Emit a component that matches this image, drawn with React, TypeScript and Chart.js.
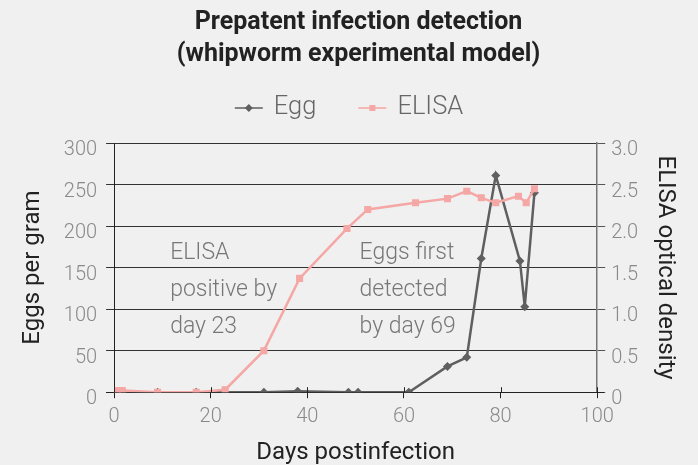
import React, { useEffect, useRef } from 'react';
import { Chart, registerables } from 'chart.js';

Chart.register(...registerables);

// ---- data ----
const eggDays = [0.5, 2, 9, 17, 23, 31, 38, 48.5, 50.5, 61, 69, 73, 76, 79, 84, 85, 87];
const eggValues = [0, 0, 0, 0, 0, 0, 1, 0, 0, 0, 31, 42, 161, 261, 158, 103, 240];
const elisaDays = [0.7, 1.7, 9, 17, 23, 31, 38.4, 48.2, 52.5, 62.4, 69, 73, 76, 79, 83.7, 85.3, 87];
const elisaValues = [0.02, 0.02, 0, 0, 0.03, 0.5, 1.37, 1.97, 2.2, 2.28, 2.33, 2.42, 2.34, 2.28, 2.36, 2.28, 2.45];

const xTicks = [0, 20, 40, 60, 80, 100];
const leftTicks = [0, 50, 100, 150, 200, 250, 300];
const rightTicks = [0, 0.5, 1.0, 1.5, 2.0, 2.5, 3.0];

const titleLines = ['Prepatent infection detection', '(whipworm experimental model)'];
const seriesNames = ['Egg', 'ELISA'];
const note1 = ['ELISA', 'positive by', 'day 23'];
const note2 = ['Eggs first', 'detected', 'by day 69'];
const note1Day = 11.6;
const note2Day = 50.8;
const noteTopValue = 160;

const EGG = '#5f5f5f';
const PINK = '#f4a7a4';
const BG = '#f0f0f0';
const FONT = 'Roboto';

const notesPlugin = {
  id: 'notes',
  beforeDatasetsDraw(chart: any) {
    const { ctx, scales, chartArea } = chart;
    const x = scales.x;
    const y = scales.y;
    ctx.save();
    // x axis line extended across the tick marks
    ctx.strokeStyle = '#222';
    ctx.lineWidth = 1;
    const by = Math.round(chartArea.bottom) + 0.5;
    ctx.beginPath();
    ctx.moveTo(chartArea.left - 8, by);
    ctx.lineTo(chartArea.right + 7, by);
    ctx.stroke();

    ctx.font = `300 23px ${FONT}`;
    ctx.fillStyle = '#777777';
    ctx.textAlign = 'left';
    ctx.textBaseline = 'alphabetic';
    const base = y.getPixelForValue(noteTopValue);
    const step = 36.7;
    note1.forEach((t, i) => ctx.fillText(t, x.getPixelForValue(note1Day), base + i * step));
    note2.forEach((t, i) => ctx.fillText(t, x.getPixelForValue(note2Day), base + i * step));
    ctx.restore();
  },
  afterDraw(chart: any) {
    const { ctx, scales, chartArea } = chart;
    // x tick marks crossing the axis (upper part)
    ctx.save();
    ctx.strokeStyle = '#222';
    ctx.lineWidth = 1;
    xTicks.forEach((v) => {
      const px = Math.round(scales.x.getPixelForValue(v)) + 0.5;
      ctx.beginPath();
      ctx.moveTo(px, chartArea.bottom - 5);
      ctx.lineTo(px, chartArea.bottom);
      ctx.stroke();
    });
    // legend
    const ly = chartArea.top - 35;
    ctx.font = `300 25.5px ${FONT}`;
    const lineW = 28;
    const gapText = 11;
    const gapItem = 42;
    const colors = [EGG, PINK];
    const widths = seriesNames.map((s) => lineW + gapText + ctx.measureText(s).width);
    const total = widths.reduce((a, b) => a + b, 0) + gapItem * (seriesNames.length - 1);
    let cx = chart.width / 2 - total / 2;
    seriesNames.forEach((s, i) => {
      ctx.strokeStyle = colors[i];
      ctx.fillStyle = colors[i];
      ctx.lineWidth = 1.5;
      ctx.beginPath();
      ctx.moveTo(cx, ly);
      ctx.lineTo(cx + lineW, ly);
      ctx.stroke();
      const mx = cx + lineW / 2;
      if (i === 0) {
        ctx.beginPath();
        ctx.moveTo(mx, ly - 4);
        ctx.lineTo(mx + 4, ly);
        ctx.lineTo(mx, ly + 4);
        ctx.lineTo(mx - 4, ly);
        ctx.closePath();
        ctx.fill();
      } else {
        ctx.fillRect(mx - 3, ly - 3, 6, 6);
      }
      ctx.fillStyle = '#666666';
      ctx.textAlign = 'left';
      ctx.textBaseline = 'middle';
      ctx.fillText(s, cx + lineW + gapText, ly);
      cx += widths[i] + gapItem;
    });
    ctx.restore();
  },
};

export default function App() {
  const ref = useRef<HTMLCanvasElement | null>(null);

  useEffect(() => {
    document.body.style.margin = '0';
    document.body.style.background = BG;
    const canvas = ref.current;
    if (!canvas) return;
    const tickFont = { family: FONT, size: 20, weight: '300' as any };
    // y tick labels sit a little below their grid lines: an empty first line pushes them down
    const yTickFont = { family: FONT, size: 20, weight: '300' as any, lineHeight: 0.7 };
    const chart = new Chart(canvas, {
      type: 'line',
      data: {
        datasets: [
          {
            label: seriesNames[0],
            data: eggDays.map((d, i) => ({ x: d, y: eggValues[i] })),
            borderColor: EGG,
            backgroundColor: EGG,
            borderWidth: 2.5,
            pointStyle: 'rectRot',
            pointRadius: 4.5,
            pointBorderWidth: 0,
            yAxisID: 'y',
            order: 2,
          },
          {
            label: seriesNames[1],
            data: elisaDays.map((d, i) => ({ x: d, y: elisaValues[i] })),
            borderColor: PINK,
            backgroundColor: PINK,
            borderWidth: 2.5,
            pointStyle: 'rect',
            pointRadius: 5,
            pointBorderWidth: 0,
            yAxisID: 'y1',
            order: 1,
          },
        ],
      },
      options: {
        responsive: false,
        animation: false,
        devicePixelRatio: 1,
        layout: { padding: { left: 19, right: 0, top: 0, bottom: 0 } },
        plugins: {
          legend: { display: false },
          tooltip: { enabled: false },
          title: {
            display: true,
            text: titleLines,
            color: '#222222',
            font: { family: FONT, size: 25, weight: 'bold', lineHeight: 1.3 },
            padding: { top: 6, bottom: 72 },
          },
        },
        scales: {
          x: {
            type: 'linear',
            min: 0,
            max: 100,
            afterBuildTicks: (s: any) => { s.ticks = xTicks.map((v) => ({ value: v })); },
            ticks: { color: '#8a8a8a', font: tickFont, padding: 7, maxRotation: 0 },
            grid: { drawOnChartArea: false, color: '#222', tickLength: 6 },
            border: { color: '#222', width: 1 },
            title: {
              display: true,
              text: 'Days postinfection',
              color: '#222222',
              font: { family: FONT, size: 24 },
              padding: { top: 2, bottom: -2 },
            },
          },
          y: {
            position: 'left',
            min: 0,
            max: 300,
            afterBuildTicks: (s: any) => { s.ticks = leftTicks.map((v) => ({ value: v })); },
            ticks: {
              color: '#8a8a8a',
              font: yTickFont,
              padding: 9,
              callback: (v: any) => ['', String(v)],
            },
            grid: { color: '#333', tickLength: 8 },
            border: { color: '#222', width: 1 },
            title: {
              display: true,
              text: 'Eggs per gram',
              color: '#222222',
              font: { family: FONT, size: 24 },
              padding: { top: 0, bottom: 7 },
            },
          },
          y1: {
            position: 'right',
            min: 0,
            max: 3,
            afterBuildTicks: (s: any) => { s.ticks = rightTicks.map((v) => ({ value: v })); },
            ticks: {
              color: '#8a8a8a',
              font: yTickFont,
              padding: 6,
              callback: (v: any) => ['', Number(v) === 0 ? '0' : Number(v).toFixed(1)],
            },
            grid: { drawOnChartArea: false, color: '#555', tickLength: 8 },
            border: { color: '#777', width: 1.5 },
            title: {
              display: true,
              text: 'ELISA optical density',
              color: '#222222',
              font: { family: FONT, size: 24 },
              padding: { top: 19, bottom: 6 },
            },
          },
        },
      },
      plugins: [notesPlugin],
    });
    return () => chart.destroy();
  }, []);

  return (
    <div style={{ width: 698, height: 465, background: BG }}>
      <canvas ref={ref} width={698} height={465} style={{ display: 'block' }} />
    </div>
  );
}
